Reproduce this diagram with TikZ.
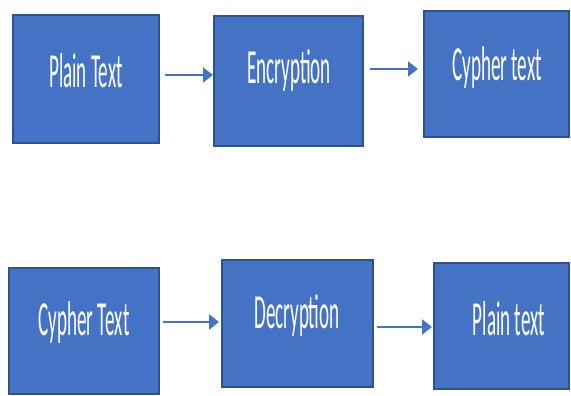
\documentclass[tikz,border=0pt]{standalone}
\usepackage{fontspec}
\setmainfont{Carlito}
\usetikzlibrary{arrows.meta}
\definecolor{boxfill}{HTML}{4472C4}
\definecolor{boxline}{HTML}{2F528F}
\begin{document}
\begin{tikzpicture}[x=1pt,y=-1pt,
  blk/.style={draw=boxline,fill=boxfill,line width=1.6pt},
  lbl/.style={text=white,inner sep=0pt,font=\fontsize{49}{52}\selectfont},
  arr/.style={draw=boxfill,line width=2.2pt,-{Triangle[length=10pt,width=15pt]}}]
\useasboundingbox (0,0) rectangle (571,396);
% top row
\draw[blk] (13,15) rectangle (159,143);
\node[lbl] (t1) at (86,71) {\scalebox{0.39}[1]{Plain Text}};
\draw[blk] (214,16) rectangle (363,146);
\node[lbl] (t2) at (289,71) {\scalebox{0.39}[1]{Encryption}};
\draw[blk] (424,11) rectangle (569,137);
\node[lbl] (t3) at (497,67) {\scalebox{0.39}[1]{Cypher text}};
% bottom row
\draw[blk] (9,268) rectangle (159,394);
\node[lbl] (t4) at (84,322) {\scalebox{0.39}[1]{Cypher Text}};
\draw[blk] (222,260) rectangle (373,387);
\node[lbl] (t5) at (297,316) {\scalebox{0.39}[1]{Decryption}};
\draw[blk] (434,263) rectangle (569,389);
\node[lbl] (t6) at (509,319) {\scalebox{0.39}[1]{Plain text}};
% arrows
\coordinate (a1s) at (165,75); \coordinate (a1e) at (213,75);
\coordinate (a2s) at (370,69); \coordinate (a2e) at (418,69);
\coordinate (a3s) at (163,322); \coordinate (a3e) at (219,322);
\coordinate (a4s) at (377,327); \coordinate (a4e) at (432,327);
\draw[arr] (a1s) -- (a1e);
\draw[arr] (a2s) -- (a2e);
\draw[arr] (a3s) -- (a3e);
\draw[arr] (a4s) -- (a4e);
\end{tikzpicture}
\end{document}
